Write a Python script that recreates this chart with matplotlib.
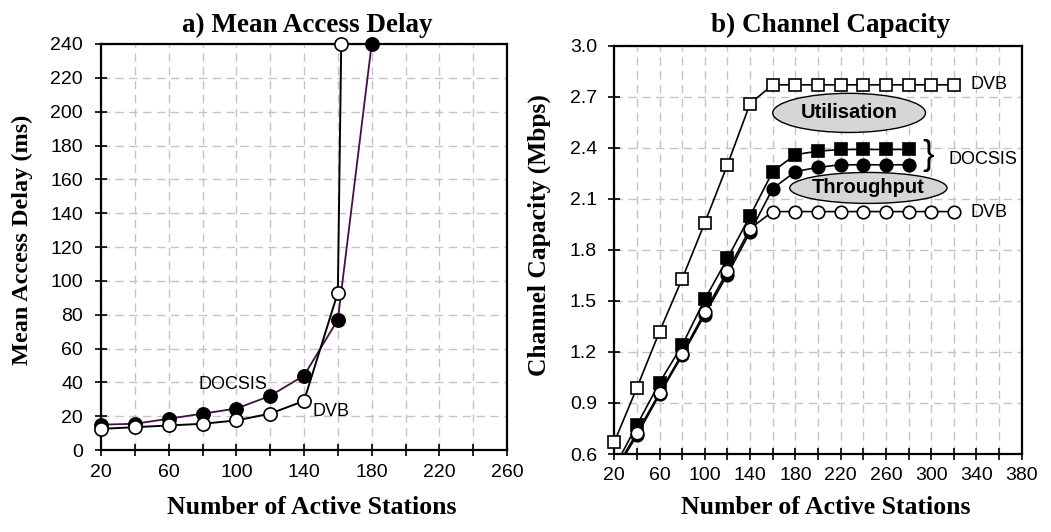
import matplotlib
matplotlib.use("Agg")
import matplotlib.pyplot as plt
from matplotlib.patches import Ellipse
from matplotlib.transforms import Bbox, TransformedBbox

# ---- a) Mean access delay ----
stations_docsis_a = [20, 40, 60, 80, 100, 120, 140, 160, 180]
delay_docsis = [15, 15.5, 18.5, 21.5, 24.5, 32, 44, 77, 240]
stations_dvb_a = [20, 40, 60, 80, 100, 120, 140, 160, 162]
delay_dvb = [12.5, 13.5, 14.5, 15.5, 17.5, 21.5, 29, 93, 240]
xticks_a = [20, 40, 60, 80, 100, 120, 140, 160, 180, 200, 220, 240, 260]
xticklabels_a = ["20", "", "60", "", "100", "", "140", "", "180", "", "220", "", "260"]
yticks_a = [0, 20, 40, 60, 80, 100, 120, 140, 160, 180, 200, 220, 240]

# ---- b) Channel capacity ----
stations_dvb_b = [20, 40, 60, 80, 100, 120, 140, 160, 180, 200, 220, 240, 260, 280, 300, 320]
util_dvb = [0.67, 0.99, 1.32, 1.63, 1.96, 2.30, 2.66, 2.77, 2.77, 2.77, 2.77, 2.77, 2.77, 2.77, 2.77, 2.77]
thr_dvb = [0.50, 0.725, 0.96, 1.19, 1.435, 1.675, 1.925, 2.025, 2.025, 2.025, 2.025, 2.025, 2.025, 2.025, 2.025, 2.025]
stations_docsis_b = [20, 40, 60, 80, 100, 120, 140, 160, 180, 200, 220, 240, 260, 280]
util_docsis = [0.52, 0.77, 1.02, 1.24, 1.51, 1.75, 2.00, 2.26, 2.36, 2.38, 2.39, 2.39, 2.39, 2.39]
thr_docsis = [0.49, 0.71, 0.95, 1.18, 1.42, 1.655, 1.905, 2.16, 2.26, 2.285, 2.30, 2.30, 2.30, 2.30]
xticks_b = list(range(20, 381, 20))
xticklabels_b = [str(v) if (v - 20) % 40 == 0 else "" for v in xticks_b]
yticks_b = [0.6, 0.9, 1.2, 1.5, 1.8, 2.1, 2.4, 2.7, 3.0]

SANS = ["Liberation Sans", "DejaVu Sans"]
SERIF = ["Liberation Serif", "DejaVu Serif"]
GRID = dict(color="#c4c4c4", linestyle=(0, (6, 4)), linewidth=1.0)
TICK_FS = 14

fig = plt.figure(figsize=(10.51, 5.32), dpi=100)
ax1 = fig.add_axes([0.0961, 0.1541, 0.3863, 0.7632])
ax2 = fig.add_axes([0.5845, 0.1466, 0.3876, 0.7675])


def style_axes(ax, xticks, xlabels, yticks, ylabels, xpad, ypad):
    ax.set_xticks(xticks)
    ax.set_xticklabels(xlabels, family=SANS, fontsize=TICK_FS)
    ax.set_yticks(yticks)
    ax.set_yticklabels(ylabels, family=SANS, fontsize=TICK_FS)
    ax.tick_params(axis="x", direction="inout", length=8, width=1.2, pad=xpad)
    ax.tick_params(axis="y", direction="inout", length=8, width=1.2, pad=ypad)
    for s in ax.spines.values():
        s.set_linewidth(1.6)
        s.set_zorder(3)
    ax.grid(True, **GRID)
    ax.set_axisbelow(True)


# Panel a
ax1.set_xlim(20, 260)
ax1.set_ylim(0, 240)
style_axes(ax1, xticks_a, xticklabels_a, yticks_a, [str(v) for v in yticks_a], 6, 9)
ax1.plot(stations_docsis_a, delay_docsis, color="#4a0a46", lw=1.3, marker="o",
         ms=9.5, mfc="black", mec="black", mew=1.2, clip_on=False, zorder=4)
ax1.plot(stations_dvb_a, delay_dvb, color="black", lw=1.4, marker="o",
         ms=9.5, mfc="white", mec="black", mew=1.2, clip_on=False, zorder=5)
ax1.text(98, 38.5, "DOCSIS", family=SANS, fontsize=13, ha="center", va="center")
ax1.text(145, 22.5, "DVB", family=SANS, fontsize=13, ha="left", va="center")
ax1.text(0.509, 1.030, "a) Mean Access Delay", transform=ax1.transAxes,
         family=SERIF, fontsize=19.5, fontweight="bold", ha="center", va="baseline")
ax1.set_xlabel("Number of Active Stations", family=SERIF, fontsize=18.5, fontweight="bold")
ax1.set_ylabel("Mean Access Delay (ms)", family=SERIF, fontsize=17.5, fontweight="bold")
ax1.xaxis.set_label_coords(0.52, -0.113)
ax1.yaxis.set_label_coords(-0.168, 0.517)

# Panel b
ax2.set_xlim(20, 380)
ax2.set_ylim(0.6, 3.0)
style_axes(ax2, xticks_b, xticklabels_b, yticks_b, [f"{v:.1f}" for v in yticks_b], 5.5, 8.5)
clip = TransformedBbox(Bbox([[-0.06, 0.0], [1.06, 1.06]]), ax2.transAxes)

series_b = [
    (stations_docsis_b, util_docsis, "s", "black"),
    (stations_docsis_b, thr_docsis, "o", "black"),
    (stations_dvb_b, thr_dvb, "o", "white"),
    (stations_dvb_b, util_dvb, "s", "white"),
]
for i, (xs, ys, mk, fc) in enumerate(series_b):
    (ln,) = ax2.plot(xs, ys, color="black", lw=1.2, marker=mk, ms=9, mfc=fc,
                     mec="black", mew=1.2, zorder=4 + i)
    ln.set_clip_box(clip)

ax2.add_patch(Ellipse((227.5, 2.605), 135, 0.23, facecolor="#d6d6d6",
                      edgecolor="black", lw=1.0, zorder=8))
ax2.text(227.5, 2.605, "Utilisation", family=SANS, fontsize=14.5, fontweight="bold",
         ha="center", va="center", zorder=9)
ax2.add_patch(Ellipse((244.5, 2.164), 139, 0.182, facecolor="#d6d6d6",
                      edgecolor="black", lw=1.0, zorder=8))
ax2.text(244.5, 2.164, "Throughput", family=SANS, fontsize=14.5, fontweight="bold",
         ha="center", va="center", zorder=9)
ax2.text(335, 2.77, "DVB", family=SANS, fontsize=13, ha="left", va="center")
ax2.text(335, 2.02, "DVB", family=SANS, fontsize=13, ha="left", va="center")
ax2.text(315, 2.33, "DOCSIS", family=SANS, fontsize=13, ha="left", va="center")
ax2.text(297, 2.355, "}", family=SANS, fontsize=25, fontweight="light",
         ha="center", va="center")
ax2.text(0.531, 1.034, "b) Channel Capacity", transform=ax2.transAxes,
         family=SERIF, fontsize=19.5, fontweight="bold", ha="center", va="baseline")
ax2.set_xlabel("Number of Active Stations", family=SERIF, fontsize=18.5, fontweight="bold")
ax2.set_ylabel("Channel Capacity (Mbps)", family=SERIF, fontsize=18.4, fontweight="bold")
ax2.xaxis.set_label_coords(0.519, -0.103)
ax2.yaxis.set_label_coords(-0.155, 0.536)

fig.savefig("out.png", dpi=100)
